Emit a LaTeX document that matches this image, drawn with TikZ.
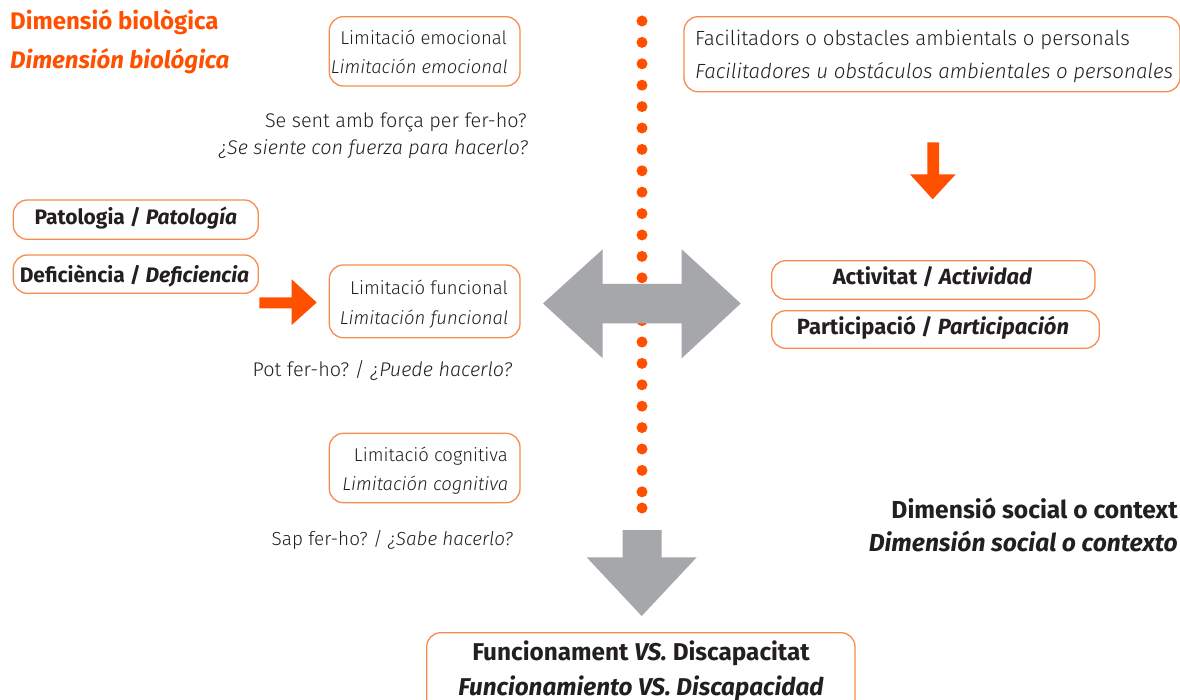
\documentclass[tikz,border=0pt]{standalone}
\usepackage{fontspec}
\setmainfont{Fira Sans}[UprightFont=* Light, ItalicFont=* Light Italic, BoldFont=* Bold, BoldItalicFont=* Bold Italic]
\frenchspacing
\definecolor{orangeA}{RGB}{255,80,0}
\definecolor{orangeB}{RGB}{247,140,80}
\definecolor{grayA}{RGB}{166,167,171}
\definecolor{ink}{RGB}{35,31,32}
\begin{document}
\begin{tikzpicture}[x=1pt,y=-1pt,
  box/.style={draw=orangeB, line width=1.3pt, rounded corners=14pt, fill=white},
  lt/.style={font=\fontsize{18.5}{22}\selectfont\frenchspacing, text=ink, inner sep=0pt},
  qt/.style={font=\fontsize{19.8}{22}\selectfont\frenchspacing, text=ink, inner sep=0pt},
  qst/.style={font=\fontsize{18.9}{22}\selectfont\frenchspacing, text=ink, inner sep=0pt},
  ft/.style={font=\fontsize{20.5}{22}\selectfont\frenchspacing, text=ink, inner sep=0pt},
  bt/.style={font=\fontsize{21}{25}\selectfont\bfseries\frenchspacing, text=ink, inner sep=0pt},
  bat/.style={font=\fontsize{22}{25}\selectfont\bfseries\frenchspacing, text=ink, inner sep=0pt},
  bbt/.style={font=\fontsize{24.6}{25}\selectfont\bfseries\frenchspacing, text=ink, inner sep=0pt},
  rt/.style={font=\fontsize{24.3}{25}\selectfont\bfseries\frenchspacing, text=ink, inner sep=0pt},
  ot/.style={font=\fontsize{24}{25}\selectfont\bfseries\frenchspacing, text=orangeA, inner sep=0pt},
  dot/.style={circle, fill=orangeA, minimum size=11pt, inner sep=0pt},
  grayarrow/.style={fill=grayA},
  orangearrow/.style={fill=orangeA}]
\useasboundingbox (0,0) rectangle (1180,700);
\fill[white] (0,0) rectangle (1180,700);
\clip (0,0) rectangle (1180,700);

% dotted divider
\foreach \i in {0,...,22} \node[dot] (d\i) at (642,21+\i*21.4) {};
\node[dot] (dlast) at (642,508) {};

% gray arrows
\fill[grayarrow] (543,303.5) -- (602.7,249.3) -- (602.7,284) -- (681.7,284) -- (681.7,249.3) -- (740.7,303.5) -- (681.7,358.3) -- (681.7,323.3) -- (602.7,323.3) -- (602.7,358.3) -- cycle;
\fill[grayarrow] (622.7,530) -- (661.7,530) -- (661.7,557.3) -- (696.7,557.3) -- (641.7,616) -- (586.7,557.3) -- (622.7,557.3) -- cycle;

% orange arrows
\fill[orangearrow] (927.3,142.3) -- (939,142.3) -- (939,174.3) -- (955.7,174.3) -- (932.7,199.3) -- (910,174.3) -- (927.3,174.3) -- cycle;
\fill[orangearrow] (259.3,297.3) -- (291.7,297.3) -- (291.7,279.3) -- (316.7,302.5) -- (291.7,325) -- (291.7,308.3) -- (259.3,308.3) -- cycle;

% boxes
\draw[box] (329.3,16.7) rectangle (520,86);
\draw[box] (684,16.7) rectangle (1180,91.7);
\draw[box] (13.3,200) rectangle (258.3,239.3);
\draw[box] (13.3,255) rectangle (258.3,293.3);
\draw[box] (329.3,265) rectangle (520,337.7);
\draw[box] (329.3,433.3) rectangle (520,502.7);
\draw[box] (771.7,260.7) rectangle (1095,299.3);
\draw[box] (771.7,310.7) rectangle (1099.3,348.3);
\draw[box] (426.7,632.7) rectangle (855,720);

% biological dimension title
\node[ot, anchor=base west] (bio1) at (10,30) {Dimensió biològica};
\node[ot, anchor=base west] (bio2) at (10,69) {\itshape Dimensión biológica};

% emotional
\node[lt, anchor=base east] (emo1) at (507,45) {Limitació emocional};
\node[lt, anchor=base east] (emo2) at (508,73.5) {\itshape Limitación emocional};
\node[qt, anchor=base east] (q1a) at (527,128) {Se sent amb força per fer-ho?};
\node[qt, anchor=base east] (q1b) at (528,155) {\itshape ¿Se siente con fuerza para hacerlo?};

% facilitators
\node[ft, anchor=base west] (fac1) at (695,46) {Facilitadors o obstacles ambientals o personals};
\node[ft, anchor=base west] (fac2) at (695,78.3) {\itshape Facilitadores u obstáculos ambientales o personales};

% pathology / deficiency
\node[bt, anchor=base] (pat) at (135.8,225) {Patologia / \textit{Patología}};
\node[bt, anchor=base] (def) at (134.5,282.7) {Deficiència / \textit{Deficiencia}};

% functional
\node[lt, anchor=base east] (fun1) at (508,295) {Limitació funcional};
\node[lt, anchor=base east] (fun2) at (508.5,324.3) {\itshape Limitación funcional};
\node[qt, anchor=base east] (q2) at (512.5,376.7) {Pot fer-ho? / \textit{¿Puede hacerlo?}};

% cognitive
\node[lt, anchor=base east] (cog1) at (508,461.7) {Limitació cognitiva};
\node[lt, anchor=base east] (cog2) at (508.5,490) {\itshape Limitación cognitiva};
\node[qst, anchor=base east] (q3) at (513,545) {Sap fer-ho? / \textit{¿Sabe hacerlo?}};

% activity / participation
\node[bat, anchor=base] (act) at (932.5,285) {Activitat / \textit{Actividad}};
\node[bat, anchor=base] (par) at (933,335) {Participació / \textit{Participación}};

% social dimension
\node[bbt, anchor=base east] (soc1) at (1178,518.3) {Dimensió social o context};
\node[bbt, anchor=base east] (soc2) at (1178,551.7) {\itshape Dimensión social o contexto};

% result
\node[rt, anchor=base] (res1) at (641,660) {Funcionament \textit{VS.} Discapacitat};
\node[rt, anchor=base] (res2) at (641,695) {\itshape Funcionamiento VS. Discapacidad};
\end{tikzpicture}
\end{document}
